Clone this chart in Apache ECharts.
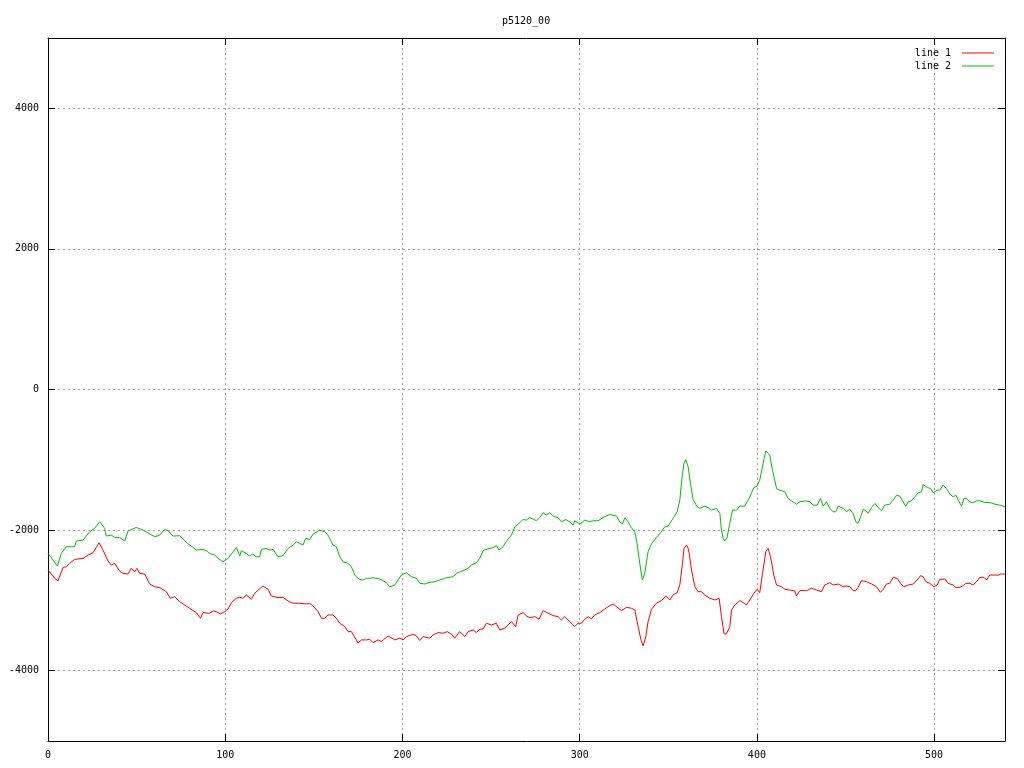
<!DOCTYPE html>
<html>
<head>
<meta charset="utf-8">
<script src="https://cdn.jsdelivr.net/npm/echarts@6/dist/echarts.min.js"></script>
<style>html,body{margin:0;padding:0;background:#fff}#c{width:1024px;height:768px}</style>
</head>
<body>
<div id="c"></div>
<script>
const titleText = 'p5120_00';
const seriesNames = ['line 1', 'line 2'];
const xTicks = [0, 100, 200, 300, 400, 500];
const yTicks = [-4000, -2000, 0, 2000, 4000];

const redX = [0,3.8,5.6,8.5,10.3,12.2,15.0,19.8,22.6,25.4,28.8,31.0,33.9,35.7,37.6,40.4,42.3,45.1,47.0,48.9,50.2,51.7,54.6,57.4,60.2,63.0,66.8,69.0,71.5,74.3,77.1,79.9,83.7,86.0,87.5,91.2,93.1,95.0,97.3,99.7,101.6,103.5,106.3,108.2,110.1,111.9,114.8,116.6,119.1,121.3,124.2,126.0,129.8,132.6,135.5,137.3,139.2,142.0,145.8,147.7,150.5,152.4,154.3,156.1,158.0,160.8,162.7,164.6,167.4,169.3,171.2,174.0,174.9,176.8,179.7,181.5,183.4,186.2,188.1,191.9,195.7,198.5,200.4,202.2,206.0,207.9,209.8,211.6,215.4,217.3,220.1,222.9,225.2,227.6,229.5,232.3,235.2,237.0,239.9,241.7,243.6,245.5,247.4,250.2,253.0,254.9,257.7,259.6,261.5,263.9,265.3,268.1,270.0,271.8,274.7,277.1,279.4,282.2,285.0,287.8,289.7,291.6,294.4,297.2,299.1,301.0,302.9,304.8,306.6,308.5,311.3,314.2,316.0,318.9,320.8,323.6,326.4,329.2,331.1,333.0,334.5,335.8,337.3,338.6,340.5,343.3,346.1,348.6,350.9,352.7,355.0,356.5,358.0,358.9,360.3,361.2,361.8,363.1,365.0,366.8,368.7,370.6,373.4,376.3,378.7,380.0,381.5,382.8,384.7,385.7,387.5,390.4,392.2,394.1,396.0,398.3,400.1,401.6,403.2,405.0,406.3,407.7,409.5,411.1,413.9,415.8,418.6,421.4,422.3,424.2,428.0,430.8,433.6,436.4,438.3,441.1,443.0,445.9,448.7,450.6,452.4,454.3,455.8,457.1,459.0,461.8,464.7,467.5,469.7,471.3,473.1,475.0,476.9,479.2,481.0,482.9,485.4,488.2,490.4,492.3,493.8,495.3,497.6,499.8,501.7,503.2,506.1,507.9,510.8,512.3,514.5,516.4,517.9,520.2,522.0,523.9,525.8,528.1,529.6,531.4,534.3,536.2,537.5,540];
const redY = [-2568,-2686,-2724,-2530,-2521,-2473,-2417,-2402,-2355,-2322,-2180,-2284,-2440,-2497,-2473,-2582,-2615,-2625,-2544,-2592,-2544,-2615,-2625,-2767,-2805,-2819,-2876,-2970,-2947,-3018,-3065,-3112,-3174,-3254,-3174,-3183,-3150,-3160,-3193,-3160,-3122,-3032,-2970,-2956,-2970,-2923,-2984,-2899,-2842,-2795,-2842,-2937,-2961,-2956,-3008,-3032,-3041,-3041,-3051,-3041,-3103,-3160,-3254,-3254,-3207,-3207,-3254,-3325,-3372,-3444,-3444,-3562,-3609,-3562,-3562,-3552,-3600,-3562,-3586,-3505,-3562,-3538,-3562,-3515,-3481,-3505,-3571,-3515,-3538,-3491,-3458,-3467,-3444,-3477,-3538,-3444,-3515,-3444,-3420,-3458,-3410,-3406,-3325,-3349,-3325,-3420,-3396,-3349,-3302,-3372,-3207,-3174,-3221,-3245,-3231,-3268,-3145,-3183,-3216,-3231,-3278,-3231,-3302,-3372,-3325,-3325,-3268,-3231,-3264,-3207,-3174,-3122,-3089,-3051,-3089,-3145,-3098,-3112,-3136,-3372,-3552,-3647,-3515,-3302,-3126,-3041,-3003,-2937,-2994,-2923,-2890,-2781,-2473,-2260,-2213,-2260,-2331,-2568,-2805,-2876,-2876,-2923,-2970,-2994,-2970,-3231,-3477,-3477,-3372,-3136,-3065,-3003,-3032,-3065,-2994,-2899,-2842,-2890,-2615,-2308,-2260,-2379,-2639,-2781,-2805,-2842,-2852,-2866,-2937,-2861,-2861,-2828,-2852,-2876,-2781,-2748,-2781,-2767,-2805,-2795,-2805,-2861,-2861,-2814,-2719,-2734,-2767,-2805,-2885,-2842,-2767,-2757,-2672,-2686,-2757,-2805,-2781,-2767,-2710,-2648,-2663,-2734,-2757,-2805,-2781,-2700,-2696,-2757,-2781,-2819,-2814,-2790,-2757,-2757,-2781,-2734,-2672,-2672,-2710,-2639,-2639,-2639,-2625,-2625];

const greenX = [0,5.3,7.5,10.3,15.0,16.0,19.8,23.5,26.3,29.2,32.0,32.9,35.7,37.6,40.4,43.3,45.1,49.8,53.6,56.4,60.2,63.0,65.8,67.7,70.5,74.3,78.1,81.8,83.7,87.5,89.4,91.2,94.1,95.9,98.8,99.7,101.6,104.4,106.3,107.2,108.2,109.1,111.9,113.4,115.7,117.2,119.5,120.4,123.2,125.1,127.0,129.8,132.6,135.5,138.3,140.2,142.0,143.9,145.4,147.7,149.6,153.3,156.1,158.0,159.9,160.8,162.7,164.6,166.5,169.3,171.2,173.1,175.5,177.8,179.7,181.5,183.4,187.2,189.1,190.9,192.8,193.8,195.7,197.5,199.4,202.2,205.1,207.9,209.8,212.6,215.4,218.2,221.0,224.8,228.6,230.5,234.2,237.0,238.9,241.7,243.6,245.5,248.3,251.1,253.0,254.5,256.8,258.7,261.5,263.4,265.3,268.1,270.0,271.8,275.6,277.5,279.4,281.2,283.1,285.0,287.8,289.7,292.2,294.4,296.3,297.2,300.1,302.9,305.7,307.6,310.4,313.2,317.0,320.8,322.6,324.1,325.5,327.3,329.2,331.1,332.4,333.9,335.4,336.7,338.6,340.5,343.3,346.1,348.0,349.9,352.7,355.0,356.5,357.8,358.9,359.9,361.2,362.5,364.0,366.3,367.8,370.6,372.5,374.4,377.2,379.1,380.0,381.0,381.9,383.2,384.7,386.2,388.5,390.4,393.2,396.0,398.3,400.1,401.6,403.5,405.0,406.0,407.3,408.8,411.1,412.9,415.8,417.6,419.5,422.3,424.2,427.0,429.9,431.7,434.0,435.9,437.4,439.3,441.1,443.0,444.5,445.9,448.7,450.6,452.4,454.3,455.8,457.1,458.5,460.0,461.5,462.8,464.7,466.6,468.4,470.3,472.2,475.0,476.9,478.8,480.7,482.5,484.0,485.4,487.2,489.1,491.0,492.9,493.8,496.1,498.0,499.5,501.7,503.2,505.1,507.0,508.9,510.8,512.3,513.6,515.5,516.8,518.3,520.2,522.0,523.9,525.8,528.6,531.4,534.3,537.1,540];
const greenY = [-2331,-2511,-2331,-2237,-2237,-2156,-2142,-2024,-1976,-1882,-1976,-2085,-2071,-2104,-2104,-2156,-2014,-1962,-2000,-2038,-2095,-2071,-1991,-2009,-2085,-2080,-2175,-2246,-2284,-2275,-2293,-2331,-2355,-2402,-2450,-2464,-2402,-2308,-2246,-2246,-2369,-2293,-2331,-2369,-2341,-2379,-2379,-2275,-2260,-2284,-2275,-2379,-2364,-2260,-2213,-2166,-2189,-2213,-2118,-2133,-2057,-2000,-2024,-2071,-2166,-2213,-2237,-2379,-2450,-2473,-2521,-2639,-2700,-2710,-2686,-2686,-2677,-2696,-2719,-2748,-2805,-2828,-2781,-2710,-2639,-2606,-2663,-2686,-2757,-2767,-2743,-2734,-2710,-2677,-2663,-2615,-2577,-2544,-2497,-2464,-2402,-2293,-2265,-2251,-2218,-2284,-2237,-2156,-2071,-1953,-1915,-1849,-1858,-1820,-1867,-1820,-1754,-1787,-1754,-1801,-1825,-1882,-1849,-1882,-1929,-1867,-1915,-1858,-1882,-1867,-1867,-1820,-1778,-1801,-1882,-1915,-1825,-1882,-1967,-2024,-2189,-2473,-2710,-2615,-2308,-2199,-2104,-2024,-1953,-1943,-1834,-1740,-1574,-1243,-1044,-997,-1101,-1337,-1565,-1669,-1692,-1659,-1683,-1716,-1692,-1763,-2000,-2118,-2156,-2104,-1905,-1716,-1716,-1659,-1659,-1527,-1394,-1375,-1290,-1053,-874,-855,-935,-1148,-1408,-1432,-1456,-1550,-1583,-1631,-1598,-1583,-1598,-1645,-1645,-1550,-1659,-1598,-1692,-1740,-1740,-1659,-1692,-1740,-1702,-1763,-1882,-1905,-1811,-1702,-1725,-1763,-1678,-1621,-1678,-1725,-1645,-1631,-1574,-1503,-1517,-1598,-1659,-1598,-1583,-1527,-1470,-1456,-1352,-1394,-1408,-1470,-1432,-1432,-1361,-1408,-1489,-1527,-1503,-1574,-1659,-1550,-1550,-1598,-1612,-1583,-1583,-1607,-1607,-1631,-1645,-1669];

const FONT = 'DejaVu Sans Mono';
const zip = (xs, ys) => xs.map((x, i) => [x, ys[i]]);

const tickStyle = {show: true, inside: true, length: 7, lineStyle: {color: '#000', width: 1}};
const gridStyle = {show: true, lineStyle: {color: '#a0a0a0', width: 1, type: [2, 3]}};
const labelStyle = {fontFamily: FONT, fontSize: 10, color: '#000'};
const plain = v => String(v);

const chart = echarts.init(document.getElementById('c'), null, {renderer: 'canvas'});
chart.setOption({
  animation: false,
  backgroundColor: '#fff',
  title: {
    text: titleText, left: 497, top: 11,
    textStyle: {fontFamily: FONT, fontSize: 10, fontWeight: 'normal', color: '#000'}
  },
  legend: {
    data: seriesNames, orient: 'vertical', right: 25, top: 42, align: 'right',
    icon: 'rect', itemWidth: 32, itemHeight: 1, itemGap: 1,
    formatter: n => n + ' ',
    textStyle: {fontFamily: FONT, fontSize: 10, color: '#000', lineHeight: 12}
  },
  grid: {left: 48, top: 38, right: 19, bottom: 27, containLabel: false},
  xAxis: [{
    type: 'value', min: 0, max: 540, interval: 100,
    axisLine: {show: true, onZero: false, lineStyle: {color: '#000', width: 1}},
    axisTick: tickStyle,
    axisLabel: Object.assign({showMaxLabel: false, margin: 9, formatter: plain}, labelStyle),
    splitLine: gridStyle
  }, {
    type: 'value', position: 'top', min: 0, max: 540, interval: 100,
    axisLine: {show: true, onZero: false, lineStyle: {color: '#000', width: 1}},
    axisTick: tickStyle, axisLabel: {show: false}, splitLine: {show: false}
  }],
  yAxis: [{
    type: 'value', min: -5000, max: 5000, interval: 1000,
    axisLine: {show: true, onZero: false, lineStyle: {color: '#000', width: 1}},
    axisTick: Object.assign({customValues: yTicks}, tickStyle),
    axisLabel: Object.assign({customValues: yTicks, margin: 9, formatter: plain, padding: [3, 0, 0, 0]}, labelStyle),
    splitLine: gridStyle
  }, {
    type: 'value', position: 'right', min: -5000, max: 5000, interval: 1000,
    axisLine: {show: true, onZero: false, lineStyle: {color: '#000', width: 1}},
    axisTick: Object.assign({customValues: yTicks}, tickStyle),
    axisLabel: {show: false}, splitLine: {show: false}
  }],
  series: [{
    name: seriesNames[0], type: 'line', xAxisIndex: 0, yAxisIndex: 0,
    data: zip(redX, redY), showSymbol: false, symbol: 'none',
    lineStyle: {color: '#ff0000', width: 1}, itemStyle: {color: '#ff0000'}
  }, {
    name: seriesNames[1], type: 'line', xAxisIndex: 0, yAxisIndex: 0,
    data: zip(greenX, greenY), showSymbol: false, symbol: 'none',
    lineStyle: {color: '#00c000', width: 1}, itemStyle: {color: '#00c000'}
  }]
});
</script>
</body>
</html>
